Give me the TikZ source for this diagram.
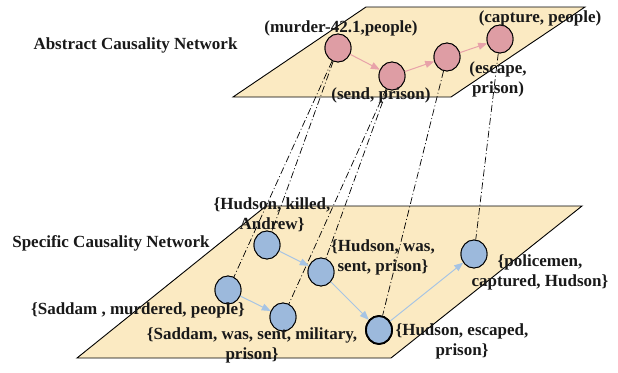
\documentclass[tikz,border=0pt]{standalone}
\usepackage{fontspec}
\setmainfont{Liberation Serif}
\usetikzlibrary{arrows.meta,shapes.geometric}
\definecolor{planefill}{HTML}{FBEAC2}
\definecolor{pinkfill}{HTML}{DE9DA4}
\definecolor{pinkarrow}{HTML}{E8A2A9}
\definecolor{bluefill}{HTML}{9CB9DC}
\definecolor{bluearrow}{HTML}{A6C4E4}
\tikzset{
  plane/.style={draw=black, line width=0.9pt, fill=planefill},
  pnode/.style={ellipse, draw=black, line width=0.9pt, fill=pinkfill, minimum width=26pt, minimum height=28pt, inner sep=0pt},
  bnode/.style={ellipse, draw=black, line width=0.9pt, fill=bluefill, minimum width=26pt, minimum height=28pt, inner sep=0pt},
  parrow/.style={draw=pinkarrow, line width=1pt, -{Triangle[length=9pt,width=7pt]}},
  barrow/.style={draw=bluearrow, line width=1pt, -{Triangle[length=9pt,width=7pt]}},
  link/.style={draw=black, line width=0.7pt, dash pattern=on 7pt off 2.5pt on 1pt off 2.5pt},
  lbl/.style={inner sep=0pt, align=center, font=\fontsize{17}{20}\selectfont\bfseries, text=black!90}
}
\begin{document}
\begin{tikzpicture}[x=1pt,y=-1pt]
\useasboundingbox (0,0) rectangle (618,372);
% planes
\draw[plane] (233,97) -- (451,97) -- (585,7) -- (366,7) -- cycle;
\draw[plane] (77,358) -- (391,358) -- (582,206) -- (266,206) -- cycle;
% node positions (placeholders for the links)
\coordinate (c1) at (338,48);
\node[pnode] (t1) at (338,48) {};
\node[pnode] (t2) at (392,76) {};
\node[pnode] (t3) at (447,57) {};
\node[pnode] (t4) at (500,39) {};
\node[bnode] (b1) at (267,245) {};
\node[bnode] (b2) at (321,272) {};
\node[bnode] (b3) at (228,290) {};
\node[bnode] (b4) at (283,317) {};
\node[bnode, line width=1.8pt] (b5) at (379,330) {};
\node[bnode] (b6) at (474,254) {};
% vertical links
\draw[link] (t1) -- (b3);
\draw[link] (t1) -- (b1);
\draw[link] (t2) -- (b4);
\draw[link] (t2) -- (b2);
\draw[link] (t3) -- (b5);
\draw[link] (t4) -- (b6);
% nodes drawn again over the links
\node[pnode] at (t1) {};
\node[pnode] at (t2) {};
\node[pnode] at (t3) {};
\node[pnode] at (t4) {};
\node[bnode] at (b1) {};
\node[bnode] at (b2) {};
\node[bnode] at (b3) {};
\node[bnode] at (b4) {};
\node[bnode, line width=1.8pt] at (b5) {};
\node[bnode] at (b6) {};
% causal arrows
\draw[parrow] (t1) -- (t2);
\draw[parrow] (t2) -- (t3);
\draw[parrow] (t3) -- (t4);
\draw[barrow] (b1) -- (b2);
\draw[barrow] (b2) -- (b5);
\draw[barrow] (b3) -- (b4);
\draw[barrow] (b5) -- (b6);
% labels
\node[lbl] (absname) at (135.5,45) {Abstract Causality Network};
\node[lbl] (l1) at (341,28) {(murder-42.1,people)};
\node[lbl] (l2) at (381,95) {(send, prison)};
\node[lbl] (l3) at (540,18) {(capture, people)};
\node[lbl] (l4) at (498,79) {(escape,\\prison)};
\node[lbl] (specname) at (111,243) {Specific Causality Network};
\node[lbl] (s1) at (272,215) {\{Hudson, killed,\\Andrew\}};
\node[lbl] (s2) at (383,257) {\{Hudson, was,\\sent, prison\}};
\node[lbl] (s3) at (540,272) {\{policemen,\\captured, Hudson\}};
\node[lbl] (s4) at (138,310) {\{Saddam , murdered, people\}};
\node[lbl] (s5) at (252,345) {\{Saddam, was, sent, military,\\prison\}};
\node[lbl] (s6) at (462,341) {\{Hudson, escaped,\\prison\}};
\end{tikzpicture}
\end{document}
